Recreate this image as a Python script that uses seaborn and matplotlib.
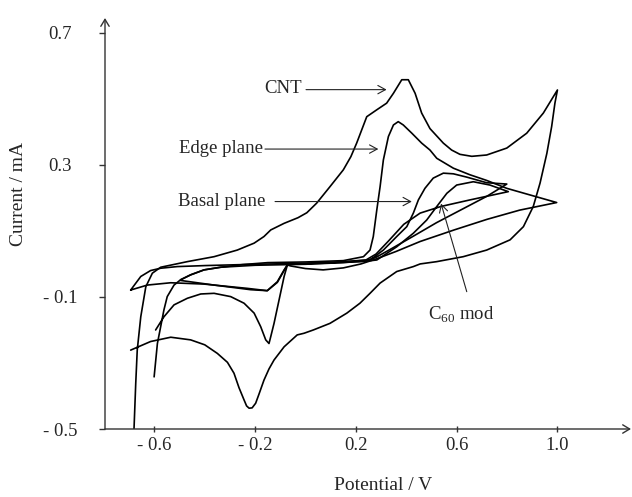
import matplotlib
matplotlib.use("Agg")
import matplotlib.pyplot as plt
import seaborn as sns
import pandas as pd

# ---------------- data ----------------
cnt_v = [-0.681, -0.674, -0.668, -0.654, -0.634, -0.608, -0.575, -0.469, -0.363, -0.271,
         -0.204, -0.165, -0.138, -0.085, -0.030, 0.005, 0.044, 0.097, 0.150, 0.180, 0.203,
         0.225, 0.243, 0.283, 0.322, 0.349, 0.382, 0.408, 0.435, 0.461, 0.494, 0.547,
         0.580, 0.613, 0.660, 0.719, 0.799, 0.878, 0.944, 1.000,
         0.990, 0.977, 0.958, 0.931, 0.904, 0.865, 0.812, 0.719, 0.626, 0.521,
         0.455, 0.428, 0.362, 0.296, 0.256, 0.216, 0.164, 0.097, 0.031, -0.006,
         -0.033, -0.085, -0.125, -0.145, -0.165, -0.185, -0.198, -0.212, -0.224, -0.234,
         -0.244, -0.264, -0.284, -0.310, -0.350, -0.400, -0.456,
         -0.535, -0.615, -0.694]
cnt_i = [-0.503, -0.362, -0.261, -0.160, -0.069, -0.028, -0.010, 0.007, 0.022, 0.042,
         0.063, 0.083, 0.103, 0.123, 0.140, 0.155, 0.184, 0.234, 0.285, 0.325, 0.366,
         0.410, 0.446, 0.467, 0.487, 0.517, 0.558, 0.558, 0.517, 0.457, 0.410, 0.366,
         0.345, 0.332, 0.326, 0.330, 0.351, 0.396, 0.457, 0.527,
         0.487, 0.416, 0.335, 0.245, 0.174, 0.113, 0.073, 0.042, 0.022, 0.007,
         0.000, -0.008, -0.023, -0.058, -0.089, -0.119, -0.149, -0.180, -0.200, -0.210,
         -0.215, -0.251, -0.291, -0.318, -0.352, -0.395, -0.422, -0.436, -0.437, -0.430,
         -0.412, -0.375, -0.331, -0.298, -0.271, -0.245, -0.230,
         -0.222, -0.235, -0.261]

edge_v = [-0.601, -0.588, -0.562, -0.549, -0.522, -0.496, -0.456, -0.403, -0.337, -0.250,
          -0.150, 0.000, 0.150, 0.230, 0.256, 0.269, 0.283, 0.296, 0.309, 0.329,
          0.349, 0.368, 0.388, 0.422, 0.461, 0.494, 0.521, 0.587, 0.653, 0.719,
          0.799, 0.891, 0.997,
          0.850, 0.720, 0.590, 0.455, 0.360, 0.280, 0.220, 0.150, 0.070, 0.000,
          -0.060, -0.072, -0.085, -0.105, -0.125, -0.138, -0.145, -0.158, -0.178, -0.204,
          -0.244, -0.297, -0.363, -0.416, -0.469, -0.522, -0.562, -0.595]
edge_i = [-0.342, -0.241, -0.139, -0.099, -0.064, -0.048, -0.033, -0.018, -0.010, -0.002,
          0.004, 0.006, 0.010, 0.022, 0.042, 0.083, 0.164, 0.234, 0.315, 0.386,
          0.421, 0.431, 0.421, 0.396, 0.366, 0.345, 0.320, 0.290, 0.270, 0.253,
          0.229, 0.209, 0.186,
          0.163, 0.135, 0.103, 0.068, 0.038, 0.015, 0.000, -0.012, -0.018, -0.014,
          -0.006, -0.003, -0.038, -0.109, -0.180, -0.220, -0.241, -0.230, -0.190, -0.149,
          -0.119, -0.099, -0.089, -0.091, -0.104, -0.124, -0.160, -0.200]

basal_v = [-0.694, -0.654, -0.615, -0.575, -0.509, -0.400, -0.200, 0.000, 0.150, 0.256,
           0.309, 0.362, 0.402, 0.428, 0.448, 0.474, 0.507, 0.547, 0.587, 0.640,
           0.719, 0.799,
           0.720, 0.620, 0.520, 0.430, 0.350, 0.280, 0.240, 0.100, -0.050, -0.072,
           -0.085, -0.112, -0.152, -0.231, -0.297, -0.403, -0.535, -0.628, -0.694]
basal_i = [-0.079, -0.038, -0.020, -0.013, -0.008, -0.005, -0.001, 0.002, 0.006, 0.012,
           0.042, 0.083, 0.113, 0.154, 0.194, 0.229, 0.260, 0.275, 0.273, 0.263,
           0.246, 0.242,
           0.205, 0.165, 0.125, 0.085, 0.050, 0.020, 0.008, 0.003, -0.001, -0.003,
           -0.018, -0.054, -0.081, -0.074, -0.069, -0.061, -0.057, -0.064, -0.079]

c60_v = [-0.496, -0.456, -0.403, -0.337, -0.200, 0.000, 0.150, 0.260, 0.283, 0.362,
         0.428, 0.481, 0.521, 0.561, 0.600, 0.666, 0.732, 0.805,
         0.653, 0.537, 0.455, 0.390, 0.330, 0.280, 0.240, 0.100, -0.050, -0.072,
         -0.085, -0.112, -0.152, -0.218, -0.363, -0.496]
c60_i = [-0.048, -0.033, -0.018, -0.010, -0.004, -0.001, 0.004, 0.010, 0.012, 0.052,
         0.093, 0.133, 0.174, 0.214, 0.239, 0.249, 0.239, 0.219,
         0.194, 0.174, 0.154, 0.120, 0.070, 0.030, 0.012, 0.004, 0.000, -0.003,
         -0.020, -0.056, -0.081, -0.078, -0.064, -0.050]

x_ticks = [-0.6, -0.2, 0.2, 0.6, 1.0]
x_tick_labels = ["- 0.6", "- 0.2", "0.2", "0.6", "1.0"]
y_ticks = [0.7, 0.3, -0.1, -0.5]
y_tick_labels = ["0.7", "0.3", "- 0.1", "- 0.5"]

# ---------------- build table ----------------
frames = []
for name, v, i in [("CNT", cnt_v, cnt_i), ("Edge plane", edge_v, edge_i),
                   ("Basal plane", basal_v, basal_i), ("C60 mod", c60_v, c60_i)]:
    frames.append(pd.DataFrame({"V": v, "I": i, "curve": name}))
df = pd.concat(frames, ignore_index=True)

# ---------------- style ----------------
sns.set_style("ticks")
plt.rcParams["font.family"] = ["Liberation Serif", "DejaVu Serif"]
plt.rcParams["mathtext.fontset"] = "custom"
plt.rcParams["mathtext.rm"] = "Liberation Serif"

W, H = 632, 497
fig = plt.figure(figsize=(W / 100, H / 100), dpi=100)
ax = fig.add_axes([105 / W, 1 - 429 / H, 526 / W, 411 / H])

sns.lineplot(data=df, x="V", y="I", units="curve", estimator=None, sort=False,
             color="black", lw=1.2, ax=ax, legend=False)

ax.set_xlim(-0.796, 1.292)
ax.set_ylim(-0.5, 0.745)

for s in ax.spines.values():
    s.set_visible(False)

axis_col = "#333333"
arrow = dict(arrowstyle="->,head_length=0.5,head_width=0.3", lw=1.0, color=axis_col,
             shrinkA=0, shrinkB=0)
ax.annotate("", xy=(1, 0), xytext=(0, 0), xycoords="axes fraction",
            textcoords="axes fraction", arrowprops=arrow, annotation_clip=False)
ax.annotate("", xy=(0, 1), xytext=(0, 0), xycoords="axes fraction",
            textcoords="axes fraction", arrowprops=arrow, annotation_clip=False)

ax.set_xticks(x_ticks)
ax.set_xticklabels(x_tick_labels)
ax.set_yticks(y_ticks)
ax.set_yticklabels(y_tick_labels)
ax.tick_params(axis="x", direction="inout", length=5, width=1, color=axis_col,
               labelsize=13.5, pad=3.5)
ax.tick_params(axis="y", direction="out", length=4, width=1, color=axis_col,
               labelsize=13.5, pad=28.5)
for lab in ax.get_yticklabels():
    lab.set_ha("center")

ax.set_xlabel("Potential / V", fontsize=14, va="center")
ax.xaxis.set_label_coords((383.5 - 105) / 526, (429 - 486) / 411)
ax.set_ylabel("Current / mA", fontsize=14, va="center")
ax.yaxis.set_label_coords((18.5 - 105) / 526, (429 - 193.5) / 411)

# ---------------- annotations ----------------
fs = 13.5
pointer = dict(arrowstyle="->,head_length=0.55,head_width=0.3", lw=0.8, color="#222222",
               shrinkA=0, shrinkB=0)
ax.text(-0.015, 0.532, "CNT", fontsize=fs, ha="right", va="center")
ax.annotate("", xy=(0.322, 0.528), xytext=(0.002, 0.528), arrowprops=pointer)
ax.text(-0.167, 0.350, "Edge plane", fontsize=fs, ha="right", va="center")
ax.annotate("", xy=(0.289, 0.348), xytext=(-0.161, 0.348), arrowprops=pointer)
ax.text(-0.161, 0.189, "Basal plane", fontsize=fs, ha="right", va="center")
ax.annotate("", xy=(0.422, 0.189), xytext=(-0.121, 0.189), arrowprops=pointer)
ax.text(0.488, -0.155, r"C$_{\mathregular{60}}$ mod", fontsize=fs, ha="left", va="center")
ax.annotate("", xy=(0.538, 0.183), xytext=(0.640, -0.084), arrowprops=pointer)

fig.savefig("out.png", dpi=100)
